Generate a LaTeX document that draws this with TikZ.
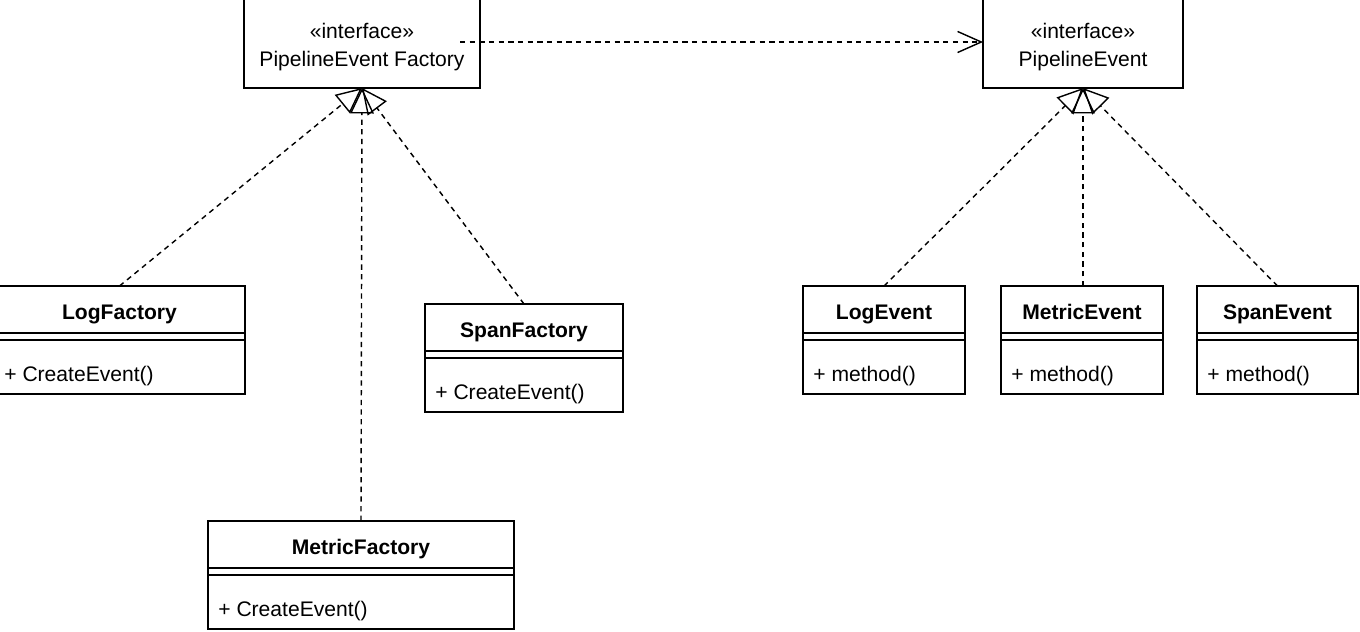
\documentclass[tikz,border=0pt]{standalone}
\usepackage{fontspec}
\setmainfont{Liberation Sans}
\usetikzlibrary{arrows.meta}

\tikzset{
  boxline/.style={line width=0.8pt},
  classbox/.style={draw, boxline, inner sep=0pt, outer sep=0pt, anchor=north west,
    minimum height=108*0.02cm},
  classname/.style={font=\fontsize{12}{14}\selectfont\bfseries, inner sep=0pt,
    text height=8.6pt, text depth=2.5pt},
  member/.style={font=\fontsize{12}{14}\selectfont, anchor=west, inner sep=0pt,
    text height=8.6pt, text depth=2.5pt},
  iface/.style={draw, boxline, inner sep=0pt, outer sep=0pt,
    minimum width=236*0.02cm, minimum height=92*0.02cm},
  ifacetext/.style={align=center, font=\fontsize{12}{15.3}\selectfont, inner sep=0pt},
  dashline/.style={line width=0.8pt, dash pattern=on 3pt off 2.5pt},
  realize/.style={dashline, -{Triangle[open, length=14.5pt, width=13.5pt, line width=0.8pt]}},
  depend/.style={dashline, -{Straight Barb[length=13.5pt, width=12pt, line width=0.8pt]}}
}

% class box: name, x, y (top left), width, title, operation
\newcommand{\umlclass}[6]{%
  \node[classbox, minimum width=#4*0.02cm] (#1) at (#2,#3) {};
  \draw[boxline] ([shift={(0,47)}]#1.north west) -- ([shift={(0,47)}]#1.north east);
  \draw[boxline] ([shift={(0,54)}]#1.north west) -- ([shift={(0,54)}]#1.north east);
  \node[classname] (#1-name) at ([shift={(0,28.5)}]#1.north) {#5};
  \node[member] (#1-op) at ([shift={(10,90)}]#1.north west) {#6};
}

\begin{document}
\begin{tikzpicture}[x=0.02cm, y=-0.02cm]

    \useasboundingbox (0,0) rectangle (1360,632);

    % 1. Interfaces
    \node[iface] (pfactory) at (362,42) {};
    \node[ifacetext] (pfactory-text) at ([shift={(0,5)}]pfactory.center)
        {«interface»\\[1pt]PipelineEvent Factory};
    \node[iface, minimum width=200*0.02cm] (pevent) at (1083,42) {};
    \node[ifacetext] (pevent-text) at ([shift={(0,5)}]pevent.center)
        {«interface»\\[1pt]PipelineEvent};

    % 2. Factories
    \umlclass{logf}{-6}{286}{251}{LogFactory}{+ CreateEvent()}
    \umlclass{spanf}{425}{304}{198}{SpanFactory}{+ CreateEvent()}
    \umlclass{metricf}{208}{521}{306}{MetricFactory}{+ CreateEvent()}

    % 3. Events
    \umlclass{loge}{803}{286}{162}{LogEvent}{+ method()}
    \umlclass{metrice}{1001}{286}{162}{MetricEvent}{+ method()}
    \umlclass{spane}{1197}{286}{161}{SpanEvent}{+ method()}

    % 4. Realizations
    \draw[realize] (logf.north) -- (pfactory.south);
    \draw[realize] (metricf.north) -- (pfactory.south);
    \draw[realize] (spanf.north) -- (pfactory.south);
    \draw[realize] (loge.north) -- (pevent.south);
    \draw[realize] (metrice.north -| pevent.south) -- (pevent.south);
    \draw[realize] (spane.north) -- (pevent.south);

    % 5. Dependency
    \draw[depend] ([xshift=-0.4cm]pfactory.east) -- (pevent.west);

\end{tikzpicture}
\end{document}
